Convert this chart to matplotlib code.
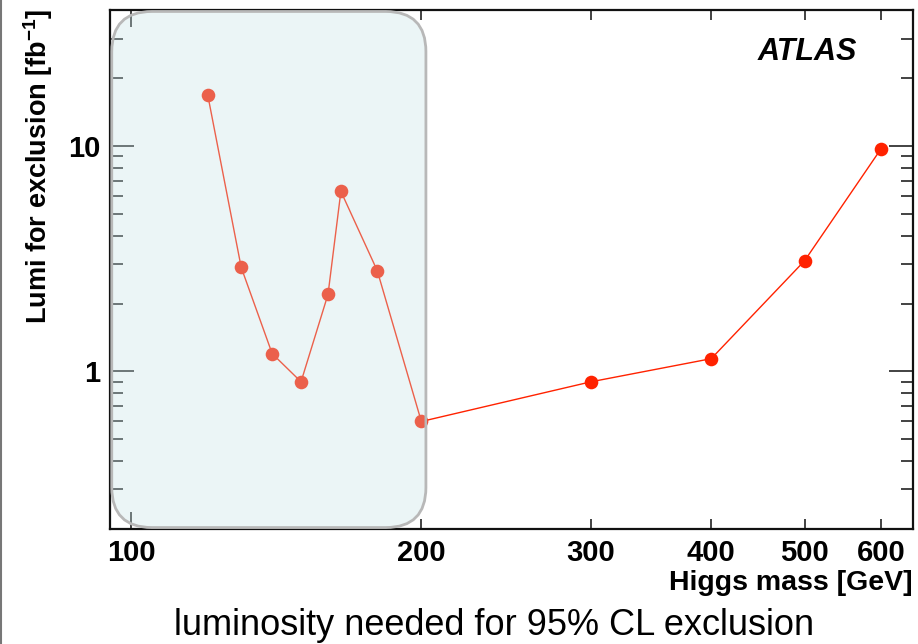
import numpy as np
import matplotlib
matplotlib.use('Agg')
import matplotlib.pyplot as plt
from matplotlib.patches import FancyBboxPatch
from matplotlib.lines import Line2D
from matplotlib.ticker import FixedLocator, FixedFormatter, NullFormatter

plt.rcParams['font.family'] = ['Liberation Sans', 'DejaVu Sans']
plt.rcParams['mathtext.fontset'] = 'custom'
plt.rcParams['mathtext.bf'] = 'Liberation Sans:bold'
plt.rcParams['mathtext.rm'] = 'Liberation Sans'

# Higgs mass [GeV] and luminosity needed for exclusion [fb^-1]
mass = [120, 130, 140, 150, 160, 165, 180, 200, 300, 400, 500, 600]
lumi = [16.9, 2.9, 1.2, 0.9, 2.2, 6.3, 2.8, 0.6, 0.9, 1.14, 3.1, 9.7]

xmajor = [100]
xminor = [200, 300, 400, 500, 600]
yticks = [1, 10]
yminor = [0.3, 0.4, 0.5, 0.6, 0.7, 0.8, 0.9, 2, 3, 4, 5, 6, 7, 8, 9, 20, 30]

# highlighted low-mass region (data coords)
box_x = (95.4, 202.2)
box_y = (0.203, 39.6)

fig = plt.figure(figsize=(9.18, 6.44), dpi=100)
ax = fig.add_axes([110/918, 1 - 529/644, 803/918, 519/644])
ax.set_xscale('log')
ax.set_yscale('log')
ax.set_xlim(95.0, 648)
ax.set_ylim(0.2, 40.2)

ax.plot(mass, lumi, color='#ff2200', lw=1.0, marker='o', ms=9.8,
        markeredgewidth=0, zorder=3)

# rounded shaded box over the low-mass points
fig.canvas.draw()
to_ax = ax.transData + ax.transAxes.inverted()
(x0, y0) = to_ax.transform((box_x[0], box_y[0]))
(x1, y1) = to_ax.transform((box_x[1], box_y[1]))
aspect = 803 / 519
style = 'round,pad=0,rounding_size=0.05'
ax.add_patch(FancyBboxPatch((x0, y0), x1 - x0, y1 - y0, boxstyle=style,
                            mutation_aspect=aspect, transform=ax.transAxes,
                            facecolor='#c3e1e4', alpha=0.33, edgecolor='none', zorder=4))
ax.add_patch(FancyBboxPatch((x0, y0), x1 - x0, y1 - y0, boxstyle=style,
                            mutation_aspect=aspect, transform=ax.transAxes,
                            facecolor='none', edgecolor='#b8b8b8', lw=2.0, zorder=5))

# ticks, ROOT style
ax.xaxis.set_major_locator(FixedLocator(xmajor))
ax.xaxis.set_minor_locator(FixedLocator(xminor))
ax.xaxis.set_major_formatter(FixedFormatter([str(v) for v in xmajor]))
ax.xaxis.set_minor_formatter(FixedFormatter([str(v) for v in xminor]))
ax.yaxis.set_major_locator(FixedLocator(yticks))
ax.yaxis.set_major_formatter(FixedFormatter([str(v) for v in yticks]))
ax.yaxis.set_minor_locator(FixedLocator(yminor))
ax.yaxis.set_minor_formatter(NullFormatter())

ax.tick_params(which='both', direction='in', top=True, right=True, colors='#222222',
               labelcolor='black', width=1.2)
ax.tick_params(axis='x', which='major', length=12, labelsize=21, pad=7)
ax.tick_params(axis='x', which='minor', length=7, labelsize=21, pad=7)
ax.tick_params(axis='y', which='major', length=17, labelsize=21, pad=7)
ax.tick_params(axis='y', which='minor', length=9)
for lab in ax.get_xticklabels(which='both') + ax.get_yticklabels():
    lab.set_fontweight('bold')
for sp in ax.spines.values():
    sp.set_linewidth(1.6)
    sp.set_color('#111111')

ax.text(0.869, 0.919, 'ATLAS', transform=ax.transAxes, ha='center', va='center',
        fontsize=22, fontweight='bold', fontstyle='italic')

fig.text(38/918, 1 - 9/644, 'Lumi for exclusion [fb$^{\\mathbf{-1}}$]', rotation=90,
         ha='center', va='top', fontsize=19.5, fontweight='bold')
fig.text(913/918, 1 - 590/644, 'Higgs mass [GeV]', ha='right', va='baseline',
         fontsize=20.5, fontweight='bold')
fig.text(494/918, 1 - 635/644, 'luminosity needed for 95% CL exclusion',
         ha='center', va='baseline', fontsize=26)

# image border on the left
fig.add_artist(Line2D([1/918, 1/918], [0, 1], transform=fig.transFigure,
                      color='#777777', lw=1.5))

fig.savefig('out.png', dpi=100)
